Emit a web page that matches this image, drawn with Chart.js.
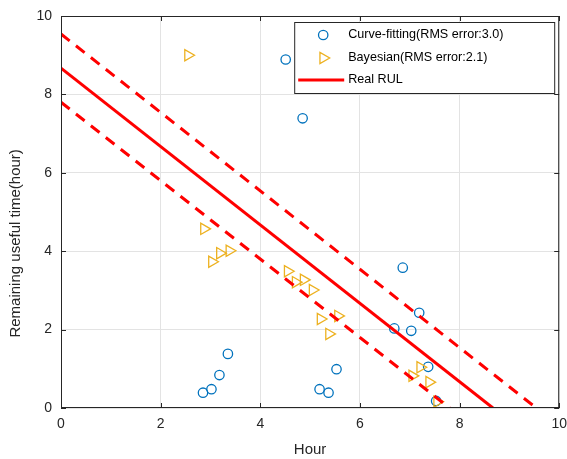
<!doctype html>
<html lang="en">
<head>
<meta charset="utf-8" />
<title>RUL prediction</title>
<script src="https://cdn.jsdelivr.net/npm/chart.js@4.4.1/dist/chart.umd.min.js"></script>
<style>
  html, body { margin: 0; padding: 0; background: #fff; }
  #wrap { width: 567px; height: 459px; }
</style>
</head>
<body>
<div id="wrap"><canvas id="rulChart"></canvas></div>
<script>
const xTicks = [0, 2, 4, 6, 8, 10];
const yTicks = [0, 2, 4, 6, 8, 10];

// curve-fitting predictions
const curveX = [2.85, 3.02, 3.18, 3.35, 4.51, 4.85, 5.19, 5.37, 5.53, 6.69, 6.86, 7.03, 7.19, 7.37, 7.53];
const curveY = [0.39, 0.48, 0.84, 1.38, 8.89, 7.39, 0.48, 0.39, 0.99, 2.03, 3.58, 1.97, 2.43, 1.05, 0.18];

// bayesian predictions
const bayesX = [2.55, 2.87, 3.03, 3.19, 3.38, 4.55, 4.71, 4.87, 5.05, 5.21, 5.38, 5.56, 7.05, 7.21, 7.39, 7.55];
const bayesY = [9.00, 4.57, 3.73, 3.95, 4.01, 3.49, 3.21, 3.27, 3.01, 2.27, 1.89, 2.35, 0.82, 1.04, 0.66, 0.16];

// real RUL and the +/-10% band around it
const realX = [0, 8.67];
const realY = [8.67, 0];
const upperX = [0, 9.54];
const upperY = [9.54, 0];
const lowerX = [0, 7.80];
const lowerY = [7.80, 0];

const seriesNames = ['Curve-fitting(RMS error:3.0)', 'Bayesian(RMS error:2.1)', 'Real RUL'];
const yTitle = 'Remaining useful time(hour)';

const BLUE = '#0072BD';
const ORANGE = '#EDB120';
const RED = '#FF0000';
const AXIS = '#262626';

const toPoints = (xs, ys) => xs.map((v, i) => ({ x: v, y: ys[i] }));

const font = { family: '"Liberation Sans", Arial, sans-serif' };

// the top y label may stick out above the plot, don't reserve room for it
const noPadding = () => ({ left: 0, top: 0, right: 0, bottom: 0 });

// MATLAB style box with inward ticks, x tick labels, y label and the inset legend
const axesBox = {
  id: 'axesBox',
  afterDraw(chart) {
    const { ctx, chartArea: a, scales: { x, y } } = chart;
    ctx.save();
    ctx.strokeStyle = AXIS;
    ctx.lineWidth = 1;
    ctx.beginPath();
    xTicks.forEach(v => {
      const px = Math.round(x.getPixelForValue(v)) + 0.5;
      ctx.moveTo(px, a.bottom); ctx.lineTo(px, a.bottom - 5);
      ctx.moveTo(px, a.top); ctx.lineTo(px, a.top + 5);
    });
    yTicks.forEach(v => {
      const py = Math.round(y.getPixelForValue(v)) + 0.5;
      ctx.moveTo(a.left, py); ctx.lineTo(a.left + 5, py);
      ctx.moveTo(a.right, py); ctx.lineTo(a.right - 5, py);
    });
    ctx.stroke();
    ctx.strokeRect(a.left + 0.5, a.top + 0.5, a.width - 1, a.height - 1);

    // x tick labels; the last one runs off the canvas edge
    ctx.fillStyle = AXIS;
    ctx.font = '14px ' + font.family;
    ctx.textAlign = 'center';
    ctx.textBaseline = 'middle';
    xTicks.forEach(v => ctx.fillText(String(v), x.getPixelForValue(v), a.bottom + 16));

    // y axis label, sits a bit below the middle of the axis
    ctx.save();
    ctx.translate(16, a.top + a.height * 0.58);
    ctx.rotate(-Math.PI / 2);
    ctx.font = '15px ' + font.family;
    ctx.fillText(yTitle, 0, 0);
    ctx.restore();

    // legend
    const lw = 260, lh = 71;
    const lx = a.right - 5 - lw, ly = a.top + 6;
    ctx.fillStyle = '#fff';
    ctx.fillRect(lx, ly, lw, lh);
    ctx.strokeStyle = AXIS;
    ctx.strokeRect(lx + 0.5, ly + 0.5, lw, lh);

    const rows = [ly + 13, ly + 36, ly + 58];
    const mx = lx + 29, tx = lx + 54;
    ctx.lineWidth = 1.3;
    ctx.strokeStyle = BLUE;
    Chart.helpers.drawPoint(ctx, { pointStyle: 'circle', radius: 4.7, rotation: 0, borderWidth: 1.3 }, mx, rows[0]);
    ctx.strokeStyle = ORANGE;
    Chart.helpers.drawPoint(ctx, { pointStyle: 'triangle', radius: 6.5, rotation: 90, borderWidth: 1.3 }, mx, rows[1]);
    ctx.strokeStyle = RED;
    ctx.lineWidth = 3;
    ctx.beginPath();
    ctx.moveTo(lx + 4, rows[2]); ctx.lineTo(lx + 50, rows[2]);
    ctx.stroke();

    ctx.fillStyle = '#000';
    ctx.font = '12.6px ' + font.family;
    ctx.textAlign = 'left';
    seriesNames.forEach((s, i) => ctx.fillText(s, tx, rows[i]));
    ctx.restore();
  }
};

const ctx = document.getElementById('rulChart').getContext('2d');
new Chart(ctx, {
  type: 'scatter',
  data: {
    datasets: [
      {
        label: seriesNames[2],
        type: 'line',
        data: toPoints(realX, realY),
        borderColor: RED,
        borderWidth: 3,
        pointRadius: 0,
        order: 0
      },
      {
        label: 'upper',
        type: 'line',
        data: toPoints(upperX, upperY),
        borderColor: RED,
        borderWidth: 3,
        borderDash: [11, 8],
        pointRadius: 0,
        order: 0
      },
      {
        label: 'lower',
        type: 'line',
        data: toPoints(lowerX, lowerY),
        borderColor: RED,
        borderWidth: 3,
        borderDash: [11, 8],
        pointRadius: 0,
        order: 0
      },
      {
        label: seriesNames[1],
        data: toPoints(bayesX, bayesY),
        pointStyle: 'triangle',
        rotation: 90,
        pointRadius: 6.5,
        borderColor: ORANGE,
        backgroundColor: 'rgba(0,0,0,0)',
        borderWidth: 1.3,
        order: 1
      },
      {
        label: seriesNames[0],
        data: toPoints(curveX, curveY),
        pointStyle: 'circle',
        pointRadius: 4.7,
        borderColor: BLUE,
        backgroundColor: 'rgba(0,0,0,0)',
        borderWidth: 1.3,
        order: 2
      }
    ]
  },
  options: {
    responsive: true,
    maintainAspectRatio: false,
    animation: false,
    layout: { padding: { left: 0, right: 6, top: 16, bottom: 0 } },
    plugins: {
      legend: { display: false },
      tooltip: { enabled: false }
    },
    scales: {
      x: {
        type: 'linear',
        min: 0,
        max: 10,
        afterBuildTicks: s => { s.ticks = xTicks.map(v => ({ value: v })); },
        afterFit: s => { s.height = 51; },
        grid: { color: '#e3e3e3', drawTicks: false },
        border: { display: false },
        ticks: { display: false },
        title: { display: true, text: 'Hour', color: AXIS, font: { ...font, size: 15 }, padding: { top: 0, bottom: 0 } }
      },
      y: {
        type: 'linear',
        min: 0,
        max: 10,
        afterBuildTicks: s => { s.ticks = yTicks.map(v => ({ value: v })); },
        afterFit: s => { s.width = 61; s.getPadding = noPadding; },
        grid: { color: '#e3e3e3', drawTicks: false },
        border: { display: false },
        ticks: { color: AXIS, padding: 9, font: { ...font, size: 14 } }
      }
    }
  },
  plugins: [axesBox]
});
</script>
</body>
</html>
